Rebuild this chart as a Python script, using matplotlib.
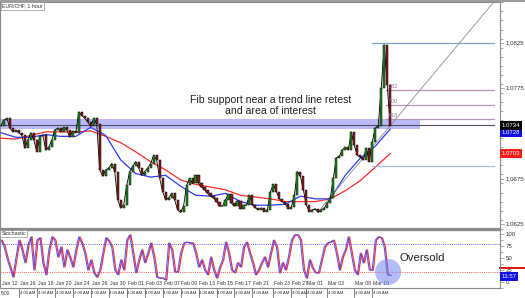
import matplotlib
matplotlib.use("Agg")
import matplotlib.pyplot as plt
import matplotlib.transforms as mtransforms
from matplotlib.patches import Ellipse
from matplotlib.ticker import MultipleLocator

plt.rcParams['font.family'] = ['Liberation Sans', 'DejaVu Sans']

# ---------------- data ----------------
# hourly-ish closes, one per bar
close = [
    1.0734, 1.0740, 1.0742, 1.0731, 1.0727, 1.0729, 1.0726, 1.0723, 1.0709, 1.0718,
    1.0726, 1.0718, 1.0705, 1.0722, 1.0723, 1.0707, 1.0710, 1.0718, 1.0729, 1.0731,
    1.0727, 1.0732, 1.0729, 1.0721, 1.0728, 1.0726, 1.0749, 1.0745, 1.0742, 1.0738,
    1.0733, 1.0742, 1.0736, 1.0685, 1.0678, 1.0685, 1.0687, 1.0692, 1.0683, 1.0652,
    1.0643, 1.0646, 1.0668, 1.0683, 1.0689, 1.0694, 1.0687, 1.0679, 1.0683, 1.0687,
    1.0692, 1.0701, 1.0696, 1.0676, 1.0661, 1.0652, 1.0654, 1.0659, 1.0652, 1.0641,
    1.0638, 1.0645, 1.0668, 1.0676, 1.0670, 1.0679, 1.0670, 1.0666, 1.0663, 1.0659,
    1.0656, 1.0654, 1.0650, 1.0645, 1.0645, 1.0652, 1.0658, 1.0648, 1.0645, 1.0651,
    1.0642, 1.0646, 1.0646, 1.0657, 1.0646, 1.0643, 1.0641, 1.0643, 1.0639, 1.0641,
    1.0661, 1.0669, 1.0661, 1.0653, 1.0650, 1.0647, 1.0642, 1.0644, 1.0657, 1.0683,
    1.0678, 1.0663, 1.0646, 1.0639, 1.0641, 1.0642, 1.0638, 1.0641, 1.0643, 1.0648,
    1.0654, 1.0676, 1.0698, 1.0700, 1.0707, 1.0710, 1.0707, 1.0727, 1.0712, 1.0701,
    1.0699, 1.0696, 1.0709, 1.0694, 1.0716, 1.0731, 1.0734, 1.0775, 1.0823, 1.0779,
    1.0734,
]

# moving averages, one value every 5 bars
ma_step = 5
blue_ma = [1.0726, 1.0721, 1.0721, 1.0724, 1.0722, 1.0722, 1.0732, 1.0723, 1.0696,
           1.0681, 1.0677, 1.0679, 1.0667, 1.0657, 1.0656, 1.0659, 1.0650, 1.0646,
           1.0646, 1.0647, 1.0656, 1.0653, 1.0653, 1.0679, 1.0698, 1.0711, 1.0730]
red_ma = [1.0720, 1.0719, 1.0723, 1.0727, 1.0727, 1.0727, 1.0728, 1.0722, 1.0715,
          1.0705, 1.0694, 1.0685, 1.0674, 1.0669, 1.0666, 1.0663, 1.0657, 1.0655,
          1.0653, 1.0650, 1.0650, 1.0650, 1.0653, 1.0662, 1.0673, 1.0688, 1.0703]

stoch = [
    87, 75, 50, 30, 10, 50, 87, 67, 40, 77,
    94, 25, 87, 92, 40, 15, 67, 94, 87, 52,
    73, 31, 67, 50, 31, 67, 94, 80, 60, 25,
    46, 19, 10, 25, 60, 92, 85, 73, 25, 15,
    46, 25, 87, 98, 60, 19, 46, 67, 40, 60,
    81, 52, 10, 8, 8, 4, 81, 67, 21, 21,
    60, 81, 83, 81, 81, 60, 31, 46, 25, 15,
    52, 25, 8, 30, 46, 83, 60, 25, 19, 40,
    31, 73, 83, 60, 40, 15, 25, 40, 52, 31,
    60, 87, 73, 19, 40, 25, 52, 87, 98, 98,
    87, 25, 8, 46, 29, 19, 19, 46, 73, 81,
    83, 87, 60, 25, 52, 67, 94, 60, 25, 15,
    60, 40, 67, 25, 25, 87, 94, 92, 73, 15,
    14,
]

date_ticks = [0, 6, 12, 18, 24, 30, 36, 42, 48, 54, 60, 66, 72, 78, 84, 91, 97,
              102, 109, 118, 124]
date_labels = ["Jan 12", "Jan 16", "Jan 18", "Jan 20", "Jan 24", "Jan 26", "Jan 30",
               "Feb 01", "Feb 03", "Feb 07", "Feb 09", "Feb 13", "Feb 15", "Feb 17",
               "Feb 21", "Feb 23", "Feb 27", "Mar 01", "Mar 03", "Mar 08", "Mar 10"]

zone_low, zone_high, zone_mid = 1.0730, 1.0741, 1.0735
fib_low, fib_high = 1.0689, 1.0825
fib_ratios = [0.382, 0.5, 0.618]
fib_names = ["382", "500", "618"]
trend_x = [106.0, 165.0]
trend_y = [1.0639, 1.0872]

last_price, blue_last, red_last = 1.0734, 1.0728, 1.0703
stoch_last = 13.57

x = list(range(len(close)))
ma_x = [i * ma_step for i in range(len(blue_ma))]

# ---------------- figure ----------------
fig = plt.figure(figsize=(5.25, 2.98), dpi=100)
ax = fig.add_axes([0.0, 0.2315, 0.952, 0.7615])
ax_st = fig.add_axes([0.0, 0.0336, 0.952, 0.1946], sharex=ax)

grey = "#8a8a8a"
for a in (ax, ax_st):
    for s in a.spines.values():
        s.set_color(grey)
        s.set_linewidth(0.8)
ax.spines["bottom"].set_linewidth(1.6)
ax_st.spines["top"].set_linewidth(1.0)

# ---- price panel ----
ax.fill_between([-0.3, 140], zone_low, zone_high, color="#6a6af5", alpha=0.45,
                linewidth=0, zorder=1)
ax.plot([-0.3, 164.7], [zone_mid, zone_mid], color="#505068", lw=0.8, zorder=2)

ax.plot(ma_x, red_ma, color="#ff2a2a", lw=0.9, zorder=3)
ax.plot(ma_x, blue_ma, color="#2a3cff", lw=0.9, zorder=4)

opens = [close[0]] + close[:-1]
heights = [c - o for o, c in zip(opens, close)]
body_cols = ["#1f8a1f" if h >= 0 else "#8c1c1c" for h in heights]
ax.plot(x, close, color="black", lw=0.6, zorder=5)
ax.bar(x, heights, bottom=opens, width=0.7, color=body_cols, edgecolor="black",
       linewidth=0.35, zorder=6)

ax.plot(trend_x, trend_y, color="#8c8c8c", lw=0.6, zorder=4)

# fib retracement
ax.plot([124, 164.7], [fib_high, fib_high], color="#7ea4cc", lw=0.9, zorder=3)
ax.plot([124, 164.7], [fib_low, fib_low], color="#a4c0dc", lw=0.9, zorder=3)
for r, name in zip(fib_ratios, fib_names):
    lvl = fib_high - r * (fib_high - fib_low)
    ax.plot([128.5, 164.7], [lvl, lvl], color="#b894b8", lw=0.9, zorder=3)
    ax.text(129.6, lvl + 0.00012, name, fontsize=4.0, color="#a070a0",
            va="bottom", ha="left", zorder=7)

ax.text(90, 1.0756, "Fib support near a trend line retest\nand area of interest",
        fontsize=7.6, ha="center", va="center", color="#222222", linespacing=1.15)

ax.text(0.004, 0.995, "EUR/CHF, 1 hour", transform=ax.transAxes, fontsize=3.8,
        va="top", ha="left", color="#333333",
        bbox=dict(boxstyle="square,pad=0.25", fc="white", ec="#909090", lw=0.5))

ax.set_xlim(-0.3, 166.6)
ax.set_ylim(1.06197, 1.08703)
ax.yaxis.tick_right()
ax.set_yticks([1.0625, 1.0675, 1.0775, 1.0825])
ax.yaxis.set_minor_locator(MultipleLocator(0.001))
ax.tick_params(axis="y", which="major", labelsize=4.4, length=3, width=0.5,
               color=grey, labelcolor="#333333", pad=1.5)
ax.tick_params(axis="y", which="minor", length=2, width=0.5, color=grey)
ax.tick_params(axis="x", bottom=False, labelbottom=False)

trans = mtransforms.blended_transform_factory(ax.transAxes, ax.transData)
box_kw = dict(fontsize=4.3, color="white", va="center", ha="left", clip_on=False)
ax.text(1.003, blue_last - 0.0002, f"{blue_last:.4f}", transform=trans,
        bbox=dict(boxstyle="square,pad=0.3", fc="#1010e0", ec="none"), **box_kw)
ax.text(1.003, last_price, f"{last_price:.4f}", transform=trans,
        bbox=dict(boxstyle="square,pad=0.3", fc="black", ec="none"), **box_kw)
ax.text(1.003, red_last, f"{red_last:.4f}", transform=trans,
        bbox=dict(boxstyle="square,pad=0.3", fc="#ff1a1a", ec="none"), **box_kw)

# ---- stochastic panel ----
ax_st.axhline(80, color="#5a5aff", lw=0.7, ls=(0, (1, 1.2)))
ax_st.axhline(20, color="#ff5a5a", lw=0.7, ls=(0, (1, 1.2)))
ax_st.plot([i + 0.4 for i in x], stoch, color="#ff3030", lw=0.9)
ax_st.plot(x, stoch, color="#4a4aff", lw=0.8, alpha=0.9)

ax_st.add_patch(Ellipse((129.3, 21), width=8.7, height=54, color="#7088f2",
                        alpha=0.55, lw=0, zorder=5))
ax_st.text(140.7, 50, "Oversold", fontsize=8.2, ha="center", va="center",
           color="#222222")
ax_st.text(0.003, 0.985, "Stochastic", transform=ax_st.transAxes, fontsize=3.8,
           va="top", ha="left", color="#333333",
           bbox=dict(boxstyle="square,pad=0.25", fc="white", ec="#909090", lw=0.5))

for t, lab in zip(date_ticks, date_labels):
    ax_st.text(t + 0.3, -3, lab, fontsize=3.7, ha="left", va="center",
               color="#333333")

ax_st.set_ylim(-12.5, 108.3)
ax_st.yaxis.tick_right()
ax_st.set_yticks([0, 25, 50, 75, 100])
ax_st.yaxis.set_minor_locator(MultipleLocator(12.5))
ax_st.tick_params(axis="y", which="major", labelsize=4.4, length=3, width=0.5,
                  color=grey, labelcolor="#333333", pad=1.5)
ax_st.tick_params(axis="y", which="minor", length=2, width=0.5, color=grey)
ax_st.tick_params(axis="x", bottom=False, labelbottom=False)

trans_st = mtransforms.blended_transform_factory(ax_st.transAxes, ax_st.transData)
ax_st.plot([1.0, 1.05], [29, 29], transform=trans_st, color="#e01010", lw=1.4,
           clip_on=False)
ax_st.text(1.003, 11, f"{stoch_last:.2f}", transform=trans_st,
           bbox=dict(boxstyle="square,pad=0.3", fc="#1010e0", ec="none"), **box_kw)

# time row under the panels
trans_t = mtransforms.blended_transform_factory(ax_st.transData, ax_st.transAxes)
ax_st.text(-0.2, -0.095, "5:00", transform=trans_t, fontsize=3.4, ha="left",
           va="center", color="#333333", clip_on=False)
for t in date_ticks[1:]:
    ax_st.plot([t, t], [0, -0.18], transform=trans_t, color="#555555", lw=0.5,
               clip_on=False)
    ax_st.text(t + 0.25, -0.095, "4:00 AM", transform=trans_t, fontsize=3.1,
               ha="left", va="center", color="#333333", clip_on=False)

fig.add_artist(plt.Line2D([0, 1], [0.998, 0.998], color=grey, lw=1.2))

fig.savefig("out.png", dpi=100, facecolor="white")
